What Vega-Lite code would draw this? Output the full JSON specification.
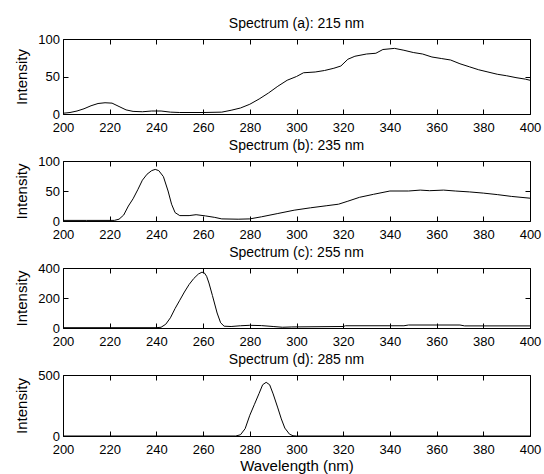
{
  "$schema": "https://vega.github.io/schema/vega-lite/v6.json",
  "padding": {"top": 16, "left": 14, "right": 3, "bottom": 3},
  "background": "white",
  "config": {
    "font": "Liberation Sans",
    "view": {"stroke": "black", "strokeWidth": 1},
    "axis": {
      "grid": false, "domain": false, "tickColor": "black", "tickSize": -5, "tickWidth": 1,
      "labelColor": "black", "labelFontSize": 13, "labelFlush": false, "labelOverlap": false,
      "titleColor": "black", "titleFontSize": 15, "titleFontWeight": "normal"
    },
    "axisX": {"labelPadding": 12, "titlePadding": 2},
    "axisY": {"labelPadding": 8.5, "titlePadding": 8},
    "title": {"fontSize": 14, "fontWeight": "normal", "color": "black", "frame": "group", "offset": 2}
  },
  "datasets": {
    "a": [
      {"x":200,"y":1},{"x":203,"y":2},{"x":206,"y":4},{"x":209,"y":7},{"x":212,"y":11},{"x":215,"y":14},{"x":218,"y":15},{"x":221,"y":14.5},{"x":224,"y":10},{"x":227,"y":5.5},{"x":230,"y":3.5},{"x":234,"y":3},{"x":238,"y":4},{"x":242,"y":4},{"x":246,"y":2.5},{"x":250,"y":2},{"x":260,"y":2},{"x":268,"y":2.5},{"x":272,"y":5},{"x":276,"y":8},{"x":280,"y":13},{"x":284,"y":20},{"x":288,"y":28},{"x":292,"y":37},{"x":296,"y":45},{"x":300,"y":50},{"x":303,"y":55},{"x":308,"y":56},{"x":312,"y":58},{"x":316,"y":61},{"x":319,"y":64},{"x":322,"y":73},{"x":325,"y":77},{"x":330,"y":80},{"x":334,"y":81},{"x":337,"y":86},{"x":342,"y":87.5},{"x":346,"y":85},{"x":350,"y":82},{"x":354,"y":80},{"x":358,"y":76},{"x":362,"y":74},{"x":366,"y":72},{"x":370,"y":67},{"x":374,"y":63},{"x":378,"y":59},{"x":382,"y":56},{"x":386,"y":53},{"x":390,"y":51},{"x":394,"y":48.5},{"x":398,"y":46.5},{"x":400,"y":45}
    ],
    "b": [
      {"x":200,"y":1},{"x":210,"y":1},{"x":222,"y":1},{"x":224,"y":3},{"x":226,"y":10},{"x":228,"y":25},{"x":230,"y":37},{"x":232,"y":52},{"x":234,"y":68},{"x":236,"y":78},{"x":238,"y":84},{"x":239.5,"y":86},{"x":241,"y":84},{"x":243,"y":74},{"x":245,"y":50},{"x":246.5,"y":28},{"x":248,"y":14},{"x":250,"y":9},{"x":254,"y":9},{"x":257,"y":10.5},{"x":261,"y":8.5},{"x":265,"y":6},{"x":268,"y":3.5},{"x":275,"y":3},{"x":280,"y":3.5},{"x":285,"y":7},{"x":292,"y":12.5},{"x":299,"y":18},{"x":306,"y":22},{"x":313,"y":25.5},{"x":318,"y":28},{"x":322,"y":33},{"x":327,"y":39.5},{"x":333,"y":44.5},{"x":340,"y":50},{"x":348,"y":50},{"x":353,"y":51.5},{"x":357,"y":50.5},{"x":363,"y":51.5},{"x":368,"y":50},{"x":374,"y":48.5},{"x":380,"y":46.5},{"x":386,"y":44},{"x":392,"y":41},{"x":400,"y":38}
    ],
    "c": [
      {"x":200,"y":2},{"x":240,"y":2},{"x":242,"y":5},{"x":244,"y":25},{"x":246,"y":68},{"x":248,"y":130},{"x":250,"y":185},{"x":252,"y":240},{"x":254,"y":290},{"x":256,"y":330},{"x":258,"y":360},{"x":259.5,"y":372},{"x":260.5,"y":368},{"x":261.5,"y":345},{"x":262.5,"y":300},{"x":264,"y":216},{"x":266,"y":100},{"x":267.5,"y":35},{"x":269,"y":12},{"x":272,"y":10},{"x":276,"y":15},{"x":280,"y":18},{"x":285,"y":16},{"x":290,"y":10},{"x":294,"y":5},{"x":298,"y":7},{"x":320,"y":10},{"x":321,"y":15},{"x":346,"y":15},{"x":348,"y":20},{"x":370,"y":20},{"x":372,"y":14},{"x":400,"y":14}
    ],
    "d": [
      {"x":200,"y":0},{"x":274,"y":0},{"x":276,"y":10},{"x":278,"y":60},{"x":280,"y":170},{"x":282,"y":260},{"x":284,"y":350},{"x":285.5,"y":420},{"x":287,"y":440},{"x":288.5,"y":420},{"x":290,"y":345},{"x":292,"y":230},{"x":293.5,"y":140},{"x":295,"y":65},{"x":297,"y":15},{"x":298.5,"y":2},{"x":300,"y":0},{"x":400,"y":0}
    ]
  },
  "bounds": "flush",
  "spacing": 47,
  "resolve": {"scale": {"x": "independent", "y": "independent"}},
  "vconcat": [
    {
      "width": 467, "height": 75,
      "title": {"text": "Spectrum (a): 215 nm"},
      "data": {"name": "a"},
      "layer": [
        {"mark": {"type": "line", "color": "black", "strokeWidth": 1},
         "encoding": {
           "x": {"field": "x", "type": "quantitative", "scale": {"domain": [200, 400], "nice": false, "zero": false}, "axis": {"values": [200,220,240,260,280,300,320,340,360,380,400], "title": null}},
           "y": {"field": "y", "type": "quantitative", "scale": {"domain": [0, 100], "nice": false}, "axis": {"values": [0,50,100], "title": "Intensity"}}
         }},
        {"mark": {"type": "line", "opacity": 0},
         "encoding": {
           "x": {"field": "x", "type": "quantitative", "axis": {"orient": "top", "values": [200,220,240,260,280,300,320,340,360,380,400], "labels": false, "title": null}},
           "y": {"field": "y", "type": "quantitative", "axis": {"orient": "right", "values": [0,50,100], "labels": false, "title": null}}
         }}
      ],
      "resolve": {"axis": {"x": "independent", "y": "independent"}}
    },
    {
      "width": 467, "height": 60,
      "title": {"text": "Spectrum (b): 235 nm"},
      "data": {"name": "b"},
      "layer": [
        {"mark": {"type": "line", "color": "black", "strokeWidth": 1},
         "encoding": {
           "x": {"field": "x", "type": "quantitative", "scale": {"domain": [200, 400], "nice": false, "zero": false}, "axis": {"values": [200,220,240,260,280,300,320,340,360,380,400], "title": null}},
           "y": {"field": "y", "type": "quantitative", "scale": {"domain": [0, 100], "nice": false}, "axis": {"values": [0,50,100], "title": "Intensity"}}
         }},
        {"mark": {"type": "line", "opacity": 0},
         "encoding": {
           "x": {"field": "x", "type": "quantitative", "axis": {"orient": "top", "values": [200,220,240,260,280,300,320,340,360,380,400], "labels": false, "title": null}},
           "y": {"field": "y", "type": "quantitative", "axis": {"orient": "right", "values": [0,50,100], "labels": false, "title": null}}
         }}
      ],
      "resolve": {"axis": {"x": "independent", "y": "independent"}}
    },
    {
      "width": 467, "height": 60,
      "title": {"text": "Spectrum (c): 255 nm"},
      "data": {"name": "c"},
      "layer": [
        {"mark": {"type": "line", "color": "black", "strokeWidth": 1},
         "encoding": {
           "x": {"field": "x", "type": "quantitative", "scale": {"domain": [200, 400], "nice": false, "zero": false}, "axis": {"values": [200,220,240,260,280,300,320,340,360,380,400], "title": null}},
           "y": {"field": "y", "type": "quantitative", "scale": {"domain": [0, 400], "nice": false}, "axis": {"values": [0,200,400], "title": "Intensity"}}
         }},
        {"mark": {"type": "line", "opacity": 0},
         "encoding": {
           "x": {"field": "x", "type": "quantitative", "axis": {"orient": "top", "values": [200,220,240,260,280,300,320,340,360,380,400], "labels": false, "title": null}},
           "y": {"field": "y", "type": "quantitative", "axis": {"orient": "right", "values": [0,200,400], "labels": false, "title": null}}
         }}
      ],
      "resolve": {"axis": {"x": "independent", "y": "independent"}}
    },
    {
      "width": 467, "height": 61,
      "title": {"text": "Spectrum (d): 285 nm"},
      "data": {"name": "d"},
      "layer": [
        {"mark": {"type": "line", "color": "black", "strokeWidth": 1},
         "encoding": {
           "x": {"field": "x", "type": "quantitative", "scale": {"domain": [200, 400], "nice": false, "zero": false}, "axis": {"values": [200,220,240,260,280,300,320,340,360,380,400], "title": "Wavelength (nm)"}},
           "y": {"field": "y", "type": "quantitative", "scale": {"domain": [0, 500], "nice": false}, "axis": {"values": [0,500], "title": "Intensity"}}
         }},
        {"mark": {"type": "line", "opacity": 0},
         "encoding": {
           "x": {"field": "x", "type": "quantitative", "axis": {"orient": "top", "values": [200,220,240,260,280,300,320,340,360,380,400], "labels": false, "title": null}},
           "y": {"field": "y", "type": "quantitative", "axis": {"orient": "right", "values": [0,500], "labels": false, "title": null}}
         }}
      ],
      "resolve": {"axis": {"x": "independent", "y": "independent"}}
    }
  ]
}
